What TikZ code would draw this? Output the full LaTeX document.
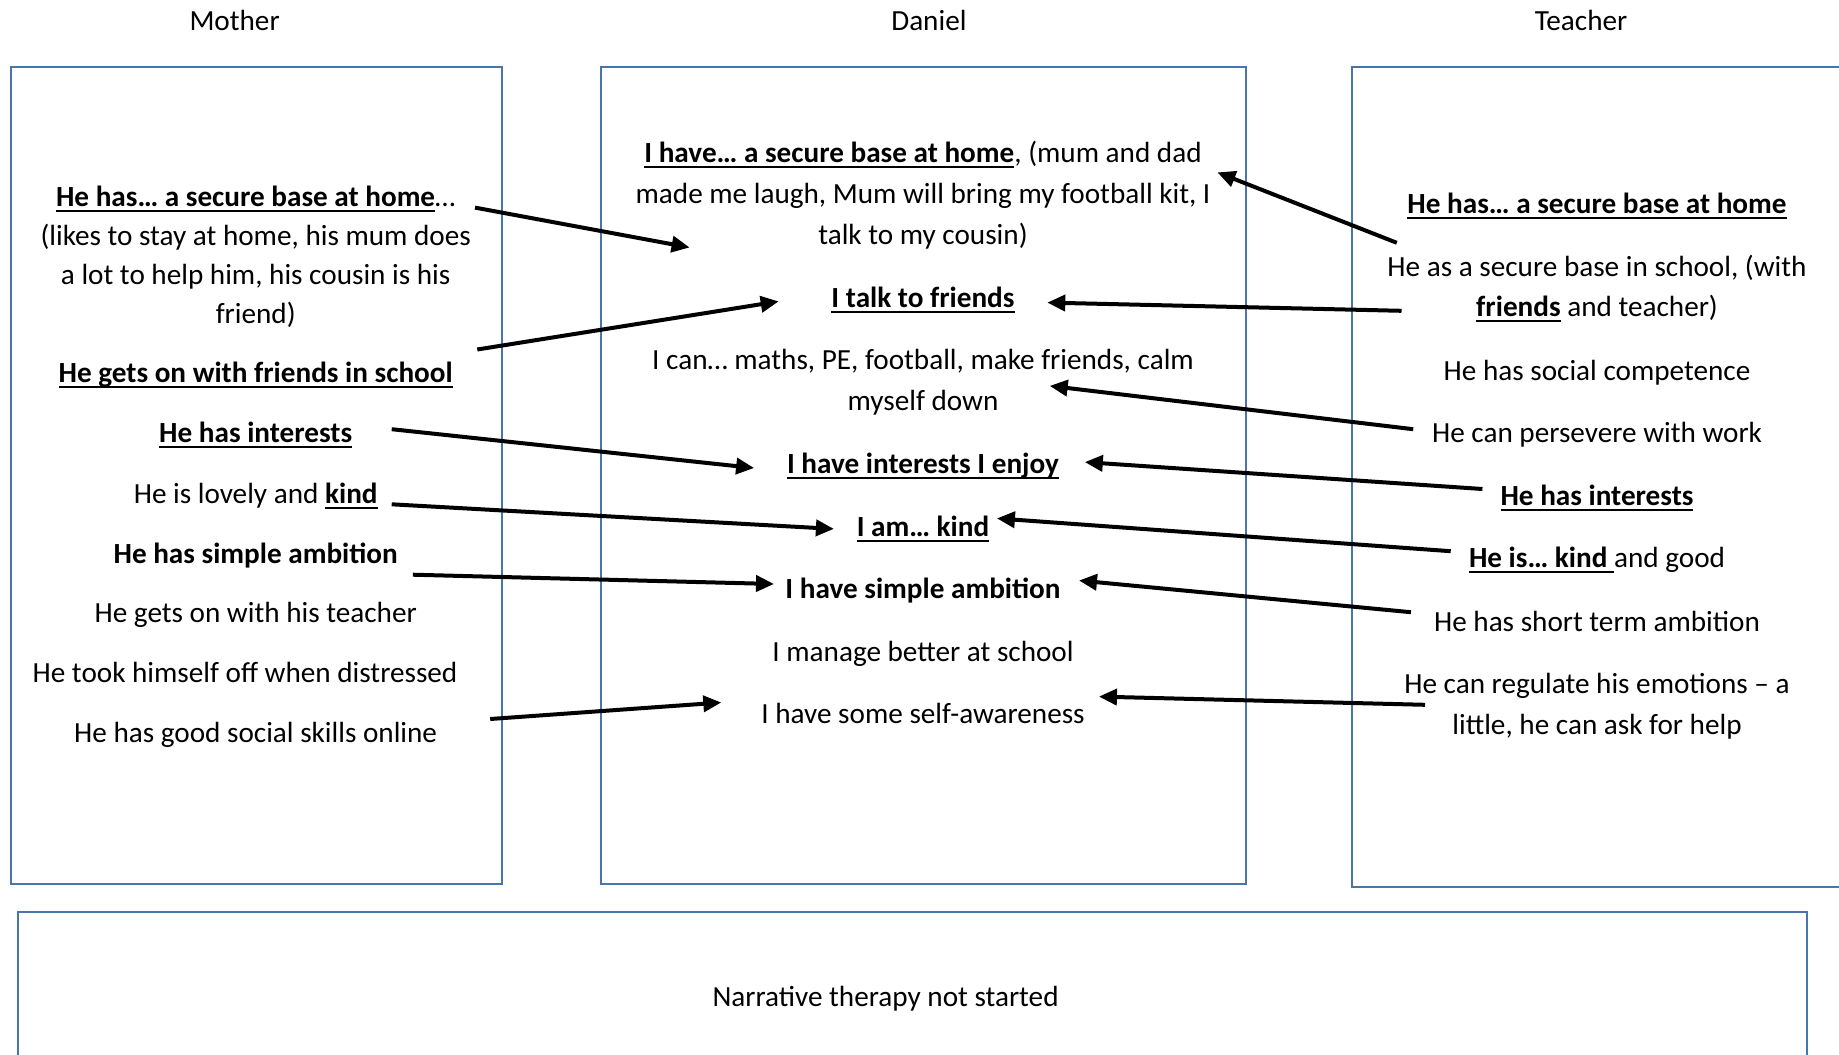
\documentclass[tikz,border=0pt]{standalone}
\usepackage{fontspec}
\setmainfont{Carlito}
\usetikzlibrary{arrows.meta}
\definecolor{boxblue}{RGB}{72,118,170}
\newsavebox{\ulbox}
\newcommand{\myul}[1]{\sbox{\ulbox}{#1}\rlap{\vrule height -2.2pt depth 3.2pt width \wd\ulbox}\usebox{\ulbox}}
\newcommand{\bu}[1]{\myul{\textbf{#1}}}
\tikzset{
  txt/.style={font=\fontsize{14.6}{19.5}\selectfont, align=center, inner sep=0pt, anchor=base},
  panel/.style={draw=boxblue, line width=1pt},
  arr/.style={line width=2pt, -{Triangle[length=9pt,width=8pt]}},
}
\begin{document}
\begin{tikzpicture}[x=0.5pt,y=-0.5pt]
\useasboundingbox[fill=white] (0,0) rectangle (1839,1054);
% panels
\draw[panel] (10.6,66.8) rectangle (502,884.3);
\draw[panel] (600.5,66.8) rectangle (1245.5,884.3);
\draw[panel] (1351.5,66.8) rectangle (1870,886.6);
\draw[panel] (17.6,912) rectangle (1807,1080);
% headers
\node[txt] (hm) at (234.6,31) {Mother};
\node[txt] (hd) at (928.9,31) {Daniel};
\node[txt] (ht) at (1581,31) {Teacher};
% Mother (multi-line nodes: base = last line)
\node[txt] (m1) at (255.7,323) {\bu{He has… a secure base at home}…\\(likes to stay at home, his mum does\\a lot to help him, his cousin is his\\friend)};
\node[txt] (m2) at (255.7,382) {\bu{He gets on with friends in school}};
\node[txt] (m3) at (255.7,442) {\bu{He has interests}};
\node[txt] (m4) at (255.7,503) {He is lovely and \bu{kind}};
\node[txt] (m5) at (255.7,563) {\textbf{He has simple ambition}};
\node[txt] (m6) at (255.7,622) {He gets on with his teacher};
\node[txt] (m7) at (245,682) {He took himself off when distressed};
\node[txt] (m8) at (255.7,742) {He has good social skills online};
% Daniel
\node[txt, font=\fontsize{14.6}{20.5}\selectfont] (d1) at (923,244) {\bu{I have… a secure base at home}, (mum and dad\\made me laugh, Mum will bring my football kit, I\\talk to my cousin)};
\node[txt] (d2) at (923,307) {\bu{I talk to friends}};
\node[txt, font=\fontsize{14.6}{20.5}\selectfont] (d3) at (923,410) {I can… maths, PE, football, make friends, calm\\myself down};
\node[txt] (d4) at (923,473) {\bu{I have interests I enjoy}};
\node[txt] (d5) at (923,536) {\bu{I am… kind}};
\node[txt] (d6) at (923,598) {\textbf{I have simple ambition}};
\node[txt] (d7) at (923,661) {I manage better at school};
\node[txt] (d8) at (923,723) {I have some self-awareness};
% Teacher
\node[txt] (t1) at (1597,213) {\bu{He has… a secure base at home}};
\node[txt, font=\fontsize{14.6}{20}\selectfont] (t2) at (1597,316) {He as a secure base in school, (with\\\bu{friends} and teacher)};
\node[txt] (t3) at (1597,380) {He has social competence};
\node[txt] (t4) at (1597,442) {He can persevere with work};
\node[txt] (t5) at (1597,505) {\bu{He has interests}};
\node[txt] (t6) at (1597,567) {\myul{\textbf{He is… kind }}and good};
\node[txt] (t7) at (1597,631) {He has short term ambition};
\node[txt, font=\fontsize{14.6}{20.5}\selectfont] (t8) at (1597,734) {He can regulate his emotions – a\\little, he can ask for help};
% bottom
\node[txt] (nb) at (885.5,1006) {Narrative therapy not started};
% arrow end points
\coordinate (a1s) at (475,207.6);   \coordinate (a1e) at (689.6,247.5);
\coordinate (a2s) at (477.3,349.5); \coordinate (a2e) at (778.7,301.4);
\coordinate (a3s) at (391.7,429.2); \coordinate (a3e) at (754.1,468);
\coordinate (a4s) at (391.7,504.3); \coordinate (a4e) at (833.9,528.9);
\coordinate (a5s) at (412.8,574.7); \coordinate (a5e) at (774,584);
\coordinate (a6s) at (490.2,719);   \coordinate (a6e) at (721.3,702.5);
\coordinate (b1s) at (1396.8,242.8); \coordinate (b1e) at (1217.4,172.4);
\coordinate (b2s) at (1401.5,310.8); \coordinate (b2e) at (1047.3,302.6);
\coordinate (b3s) at (1413.2,429.2); \coordinate (b3e) at (1049.7,385.9);
\coordinate (b4s) at (1482.4,489);   \coordinate (b4e) at (1084.8,462.1);
\coordinate (b5s) at (1450.7,551.2); \coordinate (b5e) at (996.9,518.4);
\coordinate (b6s) at (1410.9,612.2); \coordinate (b6e) at (1079,580.5);
\coordinate (b7s) at (1425,704.8);   \coordinate (b7e) at (1098.9,696.6);
% arrows
\draw[arr] (a1s) -- (a1e);
\draw[arr] (a2s) -- (a2e);
\draw[arr] (a3s) -- (a3e);
\draw[arr] (a4s) -- (a4e);
\draw[arr] (a5s) -- (a5e);
\draw[arr] (a6s) -- (a6e);
\draw[arr] (b1s) -- (b1e);
\draw[arr] (b2s) -- (b2e);
\draw[arr] (b3s) -- (b3e);
\draw[arr] (b4s) -- (b4e);
\draw[arr] (b5s) -- (b5e);
\draw[arr] (b6s) -- (b6e);
\draw[arr] (b7s) -- (b7e);
\end{tikzpicture}
\end{document}
